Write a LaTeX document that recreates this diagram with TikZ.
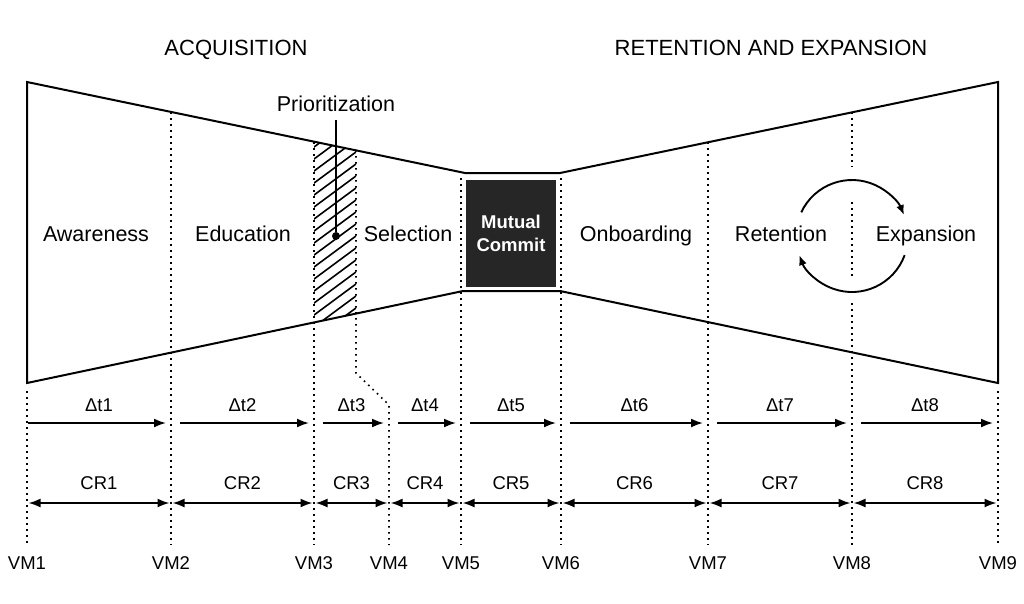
\documentclass[tikz,border=0pt]{standalone}
\usepackage{fontspec}
\setmainfont{Liberation Sans}
\usetikzlibrary{arrows.meta}
\definecolor{boxgray}{RGB}{38,38,38}

\begin{document}
\begin{tikzpicture}[x=1pt, y=-1pt,
	outline/.style = {draw, line width=2pt},
	vm/.style = {line width=1.6pt, dash pattern=on 1.6pt off 4.4pt},
	head/.style = {font=\fontsize{22}{26}\selectfont, text height=15.8pt, text depth=0pt},
	stage/.style = {font=\fontsize{21.5}{25}\selectfont, text height=15.5pt, text depth=0pt},
	small/.style = {font=\fontsize{18.5}{22}\selectfont, text height=13.3pt, text depth=0pt},
	dt/.style = {-{Latex[length=12pt, width=9pt]}, line width=1.9pt, shorten >=5pt},
	cr/.style = {{Latex[length=12pt, width=9pt]}-{Latex[length=12pt, width=9pt]}, line width=1.9pt, shorten <=1.5pt, shorten >=1.5pt},
	cyc/.style = {-{Latex[length=10pt, width=8pt]}, line width=1.9pt}]

	\useasboundingbox (0,0) rectangle (1024,603);

	\node[head] (acq) at (236,48) {ACQUISITION};
	\node[head] (ret) at (771,48) {RETENTION AND EXPANSION};

	\begin{scope}
		\clip (314,141.6) -- (356,150.4) -- (356,313.9) -- (314,322.7) -- cycle;
		\foreach \k in {0,...,20}
			\draw[line width=1.6pt] (310,150+\k*12) -- ++(50,-37);
	\end{scope}

	\foreach \i/\x in {1/27, 2/171, 3/314, 4/389, 5/461, 6/561, 7/708, 8/852, 9/998} {
		\coordinate (t\i) at (\x,423);
		\coordinate (c\i) at (\x,503);
		\node[small] (vm\i) at (\x,563) {VM\i};
	}
	\foreach \x/\top in {27/391, 171/112, 314/142, 461/178, 561/178, 708/142, 998/391}
		\draw[vm] (\x,\top) -- (\x,545);
	\draw[vm] (356,150) -- (356,373) -- (389,405) -- (389,545);
	\draw[vm] (852,112) -- (852,167) (852,202) -- (852,277) (852,303) -- (852,545);

	\draw[outline] (27,82) -- (465,173) -- (560,173) -- (998,82) -- (998,383) -- (560,291) -- (463,291) -- (27,383) -- cycle;

	\node[stage] (aw) at (96,234) {Awareness};
	\node[stage] (ed) at (243,234) {Education};
	\node[stage] (sel) at (408,234) {Selection};
	\node[fill=boxgray, minimum width=90pt, minimum height=107pt, text=white, align=center, font=\bfseries\fontsize{18.5}{23}\selectfont] (mc) at (511,233) {Mutual\\Commit};
	\node[stage] (onb) at (636,234) {Onboarding};
	\node[stage] (rtn) at (781,234) {Retention};
	\node[stage] (exp) at (926,234) {Expansion};

	\node[stage] (prio) at (336,104) {Prioritization};
	\node[circle, fill, inner sep=0pt, minimum size=8pt] (pdot) at (336,236) {};
	\draw[line width=1.9pt, shorten <=5pt] (prio) -- (pdot);

	\draw[cyc] (852,236) ++(-155:56) arc[start angle=-155, end angle=-22, radius=56];
	\draw[cyc] (852,236) ++(20:56) arc[start angle=20, end angle=160, radius=56];

	\foreach \i [evaluate=\i as \j using int(\i+1)] in {1,...,8} {
		\ifnum\i=1 \def\sh{1pt}\else\def\sh{9pt}\fi
		\draw[dt, shorten <=\sh] (t\i) -- node[small, midway, above=7pt] {Δt\i} (t\j);
		\draw[cr] (c\i) -- node[small, midway, above=9pt] {CR\i} (c\j);
	}
\end{tikzpicture}
\end{document}
